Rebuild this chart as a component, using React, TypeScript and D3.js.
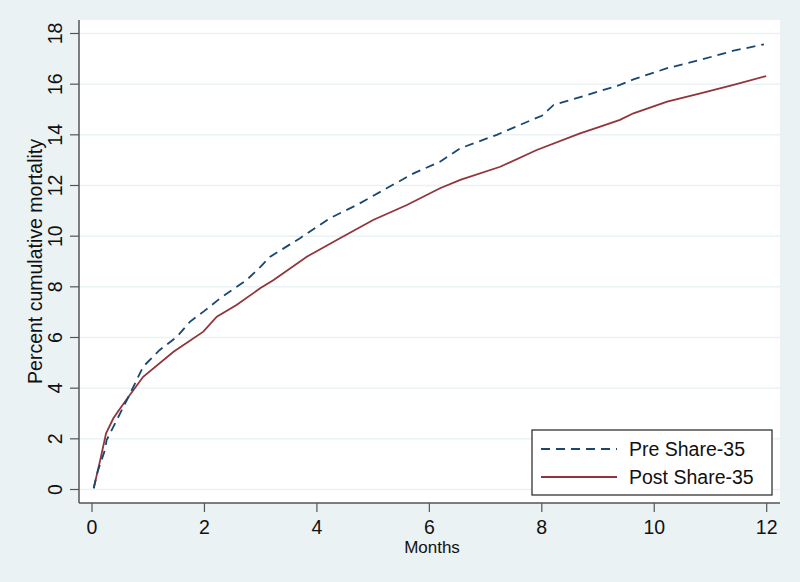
import React from "react";
import * as d3 from "d3";

const preMonths = [0.03, 0.1, 0.23, 0.26, 0.44, 0.65, 0.91, 1.2, 1.51, 1.74, 2.0, 2.28, 2.75, 3.0, 3.17, 3.7, 4.23, 4.71, 5.24, 5.72, 6.19, 6.55, 7.2, 7.79, 8.0, 8.21, 8.8, 9.39, 9.63, 10.23, 10.82, 11.41, 11.95];
const preValues = [0.05, 0.7, 1.56, 1.95, 2.74, 3.66, 4.85, 5.5, 6.03, 6.62, 7.05, 7.55, 8.27, 8.8, 9.19, 9.92, 10.71, 11.23, 11.89, 12.48, 12.94, 13.47, 14.0, 14.56, 14.75, 15.18, 15.57, 15.97, 16.19, 16.63, 16.96, 17.32, 17.57];

const postMonths = [0.03, 0.15, 0.25, 0.38, 0.5, 0.65, 0.91, 1.45, 1.98, 2.22, 2.57, 2.99, 3.23, 3.82, 4.41, 5.0, 5.6, 6.19, 6.55, 7.26, 7.91, 8.68, 9.04, 9.39, 9.63, 10.23, 10.82, 11.41, 11.99];
const postValues = [0.05, 1.2, 2.22, 2.81, 3.2, 3.66, 4.45, 5.44, 6.23, 6.82, 7.28, 7.94, 8.27, 9.19, 9.92, 10.64, 11.23, 11.89, 12.22, 12.74, 13.4, 14.06, 14.32, 14.59, 14.85, 15.31, 15.64, 15.97, 16.32];

const xTicks = [0, 2, 4, 6, 8, 10, 12];
const yTicks = [0, 2, 4, 6, 8, 10, 12, 14, 16, 18];
const seriesNames = ["Pre Share-35", "Post Share-35"];

const W = 800, H = 582;
const plotLeft = 79, plotRight = 780, plotTop = 20, plotBottom = 503;
const font = "Liberation Sans, Arial, Helvetica, sans-serif";
const axisColor = "#555";
const preColor = "#1A476F";
const postColor = "#90353B";

export default function App() {
  const x = d3.scaleLinear().domain([0, 12]).range([92, 766.7]);
  const y = d3.scaleLinear().domain([0, 18]).range([489.5, 33.5]);
  const line = d3.line<[number, number]>().x(d => x(d[0])).y(d => y(d[1]));
  const pre = preMonths.map((m, i) => [m, preValues[i]] as [number, number]);
  const post = postMonths.map((m, i) => [m, postValues[i]] as [number, number]);

  const legX = 532, legY = 430, legW = 240, legH = 65;

  return (
    <svg width={W} height={H} style={{ position: "absolute", left: 0, top: 0 }} fontFamily={font}>
      <rect x={0} y={0} width={W} height={H} fill="#EAF2F3" />
      <rect x={plotLeft} y={plotTop} width={plotRight - plotLeft} height={plotBottom - plotTop} fill="#fff" />
      {yTicks.map(t => (
        <line key={"g" + t} x1={plotLeft} x2={plotRight} y1={y(t)} y2={y(t)} stroke="#EAF2F3" strokeWidth={1.5} />
      ))}
      <path d={line(post) || ""} fill="none" stroke={postColor} strokeWidth={1.8} />
      <path d={line(pre) || ""} fill="none" stroke={preColor} strokeWidth={1.8} strokeDasharray="9 6" />
      {/* axes */}
      <line x1={plotLeft} x2={plotLeft} y1={plotTop} y2={plotBottom} stroke={axisColor} strokeWidth={1.5} />
      <line x1={plotLeft} x2={plotRight} y1={plotBottom} y2={plotBottom} stroke={axisColor} strokeWidth={1.5} />
      {yTicks.map(t => (
        <g key={"y" + t}>
          <line x1={plotLeft - 9} x2={plotLeft} y1={y(t)} y2={y(t)} stroke={axisColor} strokeWidth={1.2} />
          <text transform={`translate(62,${y(t)}) rotate(-90)`} textAnchor="middle" fontSize={19.5} fill="#111">{t}</text>
        </g>
      ))}
      {xTicks.map(t => (
        <g key={"x" + t}>
          <line x1={x(t)} x2={x(t)} y1={plotBottom} y2={plotBottom + 9} stroke={axisColor} strokeWidth={1.2} />
          <text x={x(t)} y={534} textAnchor="middle" fontSize={19.5} fill="#111">{t}</text>
        </g>
      ))}
      <text transform={`translate(42,${(plotTop + plotBottom) / 2}) rotate(-90)`} textAnchor="middle" fontSize={19.5} fill="#111">Percent cumulative mortality</text>
      <text x={432} y={553} textAnchor="middle" fontSize={17} fill="#111">Months</text>
      {/* legend */}
      <rect x={legX} y={legY} width={legW} height={legH} fill="#fff" stroke="#222" strokeWidth={1.2} />
      <line x1={541} x2={617} y1={449} y2={449} stroke={preColor} strokeWidth={1.8} strokeDasharray="9 6" />
      <line x1={541} x2={617} y1={477} y2={477} stroke={postColor} strokeWidth={1.8} />
      <text x={629} y={456} fontSize={19.5} fill="#111">{seriesNames[0]}</text>
      <text x={629} y={484} fontSize={19.5} fill="#111">{seriesNames[1]}</text>
    </svg>
  );
}
